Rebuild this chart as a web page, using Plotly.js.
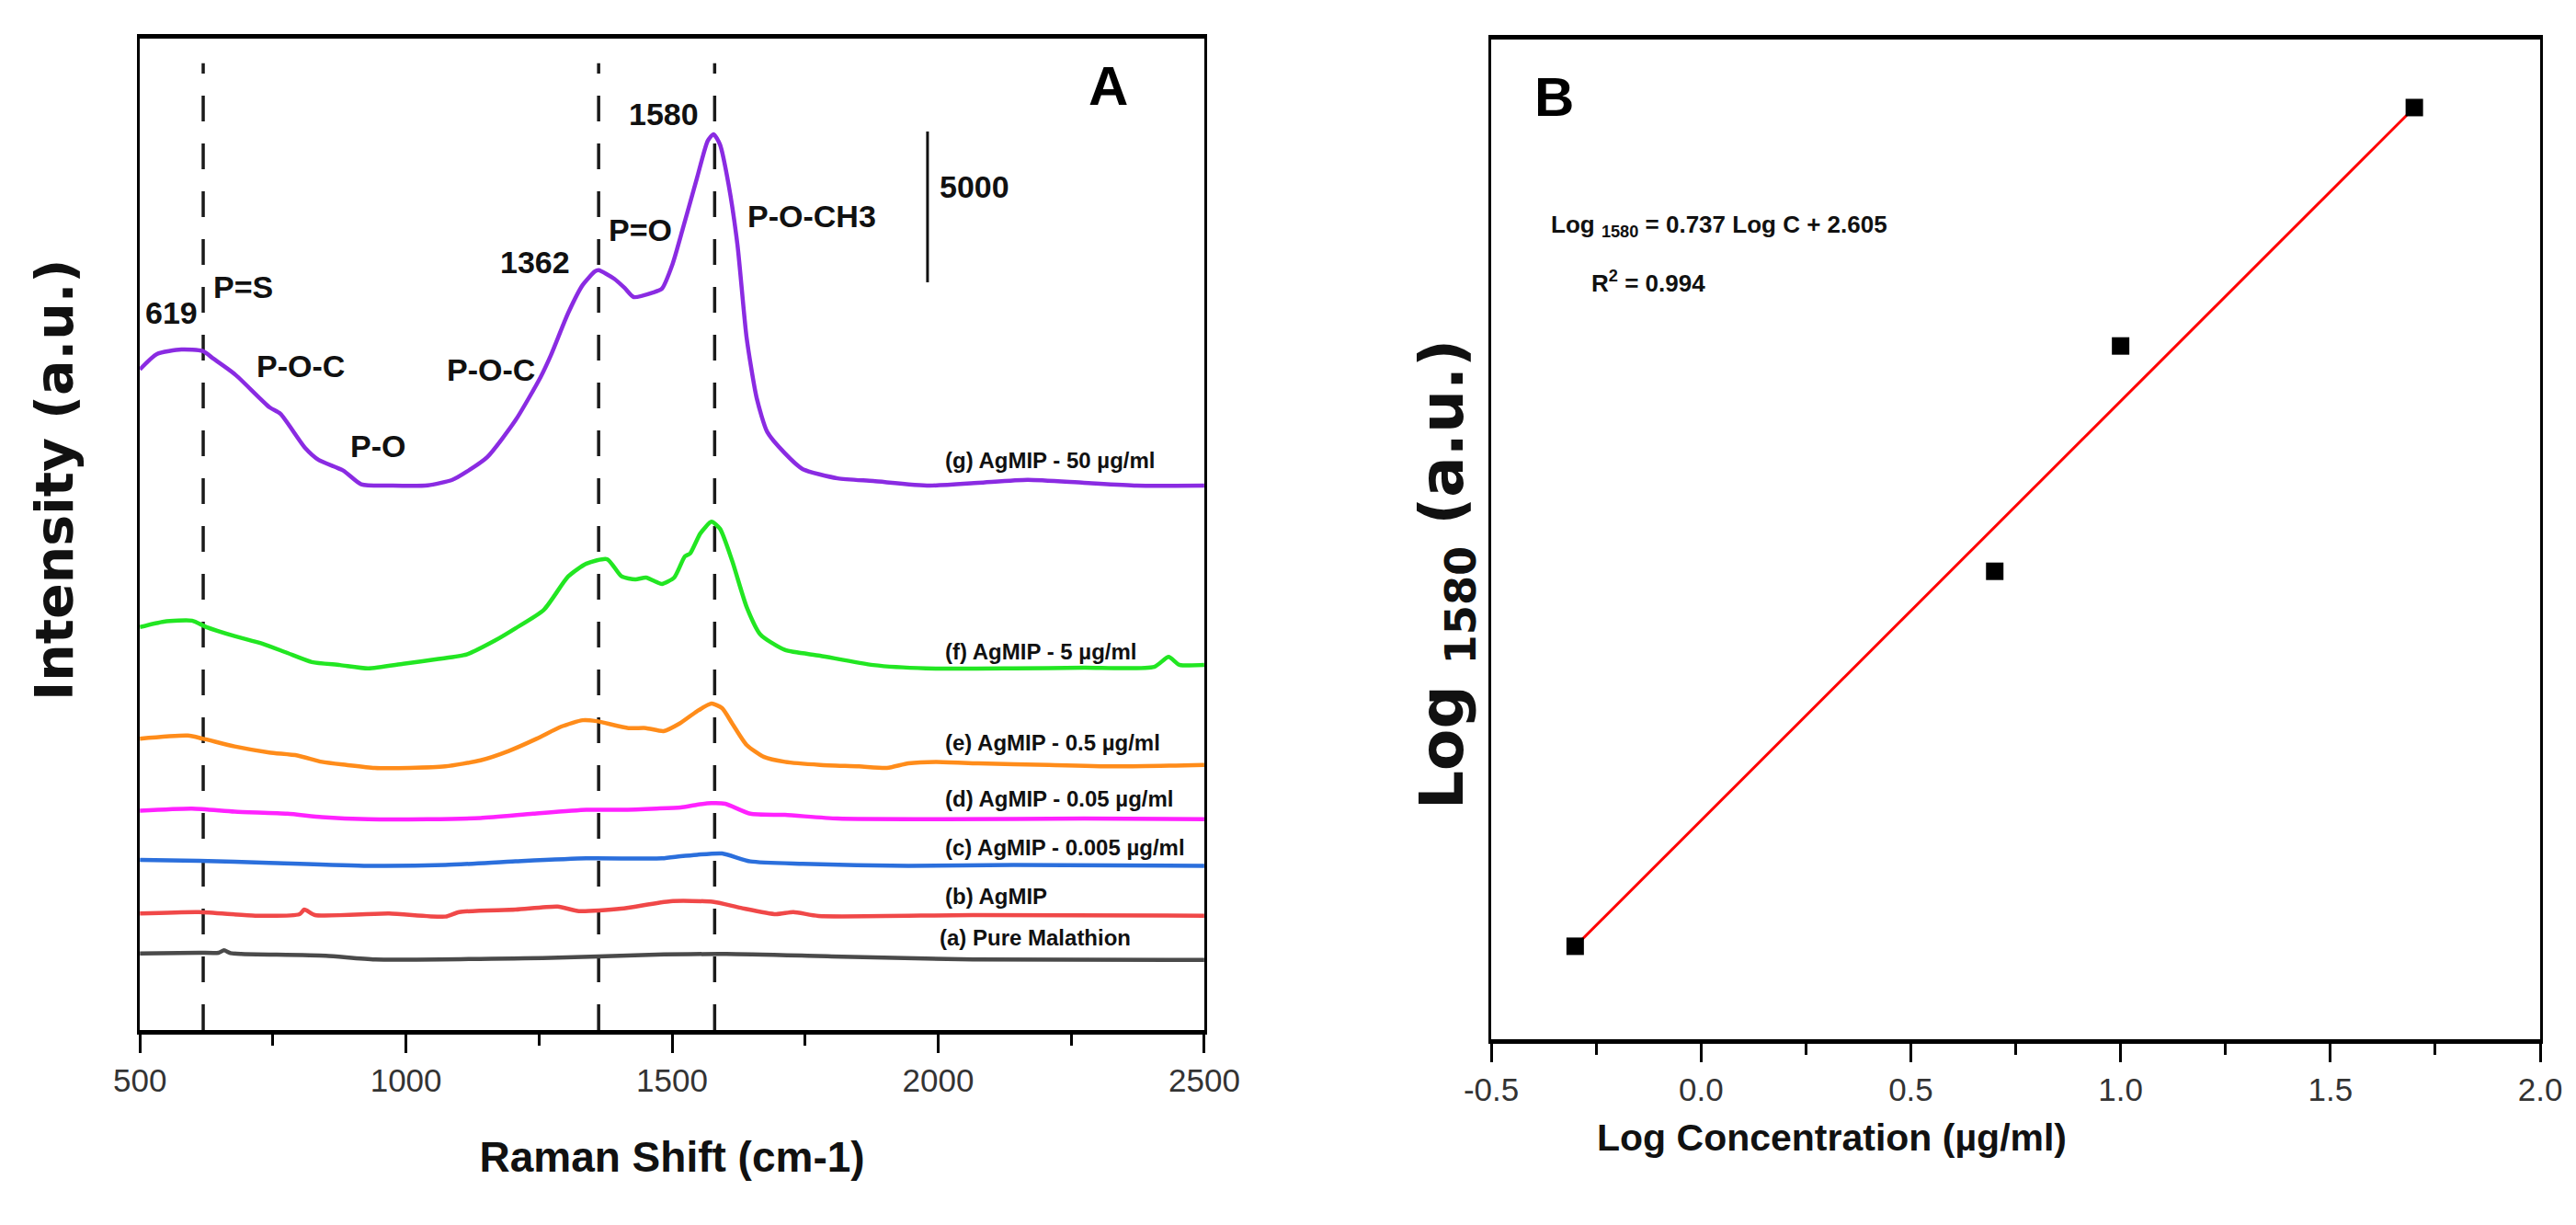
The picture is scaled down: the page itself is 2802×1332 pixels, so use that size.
<!DOCTYPE html>
<html>
<head>
<meta charset="utf-8">
<script src="https://cdn.plot.ly/plotly-3.0.1.min.js"></script>
<style>html,body{margin:0;padding:0;background:#fff;}#chart{width:2802px;height:1332px;}</style>
</head>
<body>
<div id="chart"></div>
<script>
// ---------------- Panel A: Raman spectra (stacked, counts) ----------------
const shift_g = [500,532,578,618,638,678,744,764,810,836,882,916,975,1041,1087,1114,1153,1206,1253,1272,1305,1332,1355,1362,1391,1411,1428,1464,1481,1501,1521,1547,1567,1578,1590,1606,1623,1640,1659,1679,1712,1745,1811,1878,1983,2075,2168,2274,2373,2500];
const int_g   = [21900,22410,22560,22510,22260,21750,20640,20430,19310,18900,18550,18090,18050,18060,18240,18510,19000,20220,21650,22360,23780,24700,25150,25190,24910,24600,24300,24450,24580,25400,26620,28260,29480,29700,29360,28050,26010,22960,20950,19820,19120,18600,18290,18200,18050,18140,18240,18140,18050,18050];

const shift_f = [500,545,598,625,678,730,777,823,876,929,995,1061,1114,1167,1206,1259,1305,1339,1378,1405,1431,1451,1471,1481,1504,1524,1534,1553,1574,1590,1613,1640,1666,1712,1778,1878,1977,2142,2274,2406,2433,2453,2500];
const int_f   = [13360,13540,13570,13360,13060,12810,12500,12200,12100,11990,12140,12300,12450,12910,13320,13930,15040,15460,15610,15040,14940,15000,14850,14790,15000,15700,15800,16460,16850,16620,15550,14030,13110,12600,12410,12100,11990,11990,12010,12040,12370,12110,12100];

const shift_e = [500,590,618,678,743,796,842,888,941,1007,1074,1140,1193,1246,1292,1332,1358,1418,1451,1484,1514,1547,1574,1594,1613,1640,1673,1712,1778,1851,1904,1944,1996,2075,2208,2340,2500];
const int_e   = [9660,9760,9660,9400,9200,9100,8890,8790,8690,8690,8740,8940,9250,9660,10060,10270,10240,10010,10010,9910,10160,10570,10820,10670,10160,9450,9050,8890,8790,8740,8690,8840,8890,8840,8790,8740,8790];

const shift_d = [500,598,678,777,842,929,1041,1140,1239,1339,1405,1471,1516,1547,1574,1600,1647,1712,1811,2009,2274,2500];
const int_d   = [7270,7340,7240,7170,7060,6990,6990,7030,7170,7300,7300,7340,7380,7470,7520,7500,7170,7130,7010,6990,7010,6990];

const shift_c = [500,611,743,929,1074,1206,1339,1481,1516,1547,1594,1647,1745,1944,2142,2500];
const int_c   = [5640,5610,5540,5440,5470,5590,5690,5690,5760,5810,5850,5590,5510,5440,5470,5440];

const shift_b = [500,611,717,800,809,829,968,1074,1100,1206,1285,1325,1404,1497,1576,1629,1695,1728,1775,2065,2500];
const int_b   = [3860,3910,3790,3840,3990,3810,3860,3760,3910,3990,4090,3940,4020,4270,4250,4050,3840,3910,3780,3810,3790];

const shift_a = [500,611,648,658,670,690,849,942,1272,1457,1602,1800,2065,2500];
const int_a   = [2540,2560,2560,2640,2550,2520,2460,2340,2390,2490,2520,2440,2340,2320];

const seriesLabels = ["(g) AgMIP - 50 µg/ml","(f) AgMIP - 5 µg/ml","(e) AgMIP - 0.5 µg/ml","(d) AgMIP - 0.05 µg/ml","(c) AgMIP - 0.005 µg/ml","(b) AgMIP","(a) Pure Malathion"];
const seriesColors = ["#8a2be2","#22e622","#ff8c1a","#ff22ff","#2b6fdc","#f04848","#4a4a4a"];
const labelY = [18900,12560,9540,7680,6040,4420,3050];

const peakLines = [619, 1362, 1580];
const peakTexts = [
  {t:"619", x:559, y:23780},
  {t:"P=S", x:635, y:24640, left:true},
  {t:"P-O-C", x:802, y:22010},
  {t:"P-O", x:947, y:19360},
  {t:"P-O-C", x:1160, y:21890},
  {t:"1362", x:1243, y:25460},
  {t:"P=O", x:1441, y:26530},
  {t:"1580", x:1484, y:30370},
  {t:"P-O-CH3", x:1763, y:26980}
];
const scaleBarX = 1980, scaleBarBottom = 24790, scaleBarSize = 5000;

// ---------------- Panel B: calibration ----------------
const logConc = [-0.3, 0.7, 1.0, 1.7];
const log1580 = [2.384, 3.043, 3.439, 3.858];
const fitSlope = 0.737, fitIntercept = 2.605;

const FONT = '"Liberation Sans", Arial, sans-serif';
const WIDE = '"DejaVu Sans", Verdana, sans-serif';

const allShift = [shift_g,shift_f,shift_e,shift_d,shift_c,shift_b,shift_a];
const allInt = [int_g,int_f,int_e,int_d,int_c,int_b,int_a];

const traces = [];
for (let i = 0; i < allShift.length; i++) {
  traces.push({
    type:'scatter', mode:'lines', x: allShift[i], y: allInt[i],
    line:{color: seriesColors[i], width: 4.5, shape:'spline', smoothing:0.6},
    name: seriesLabels[i], xaxis:'x', yaxis:'y', hoverinfo:'skip'
  });
}
const fitX = [logConc[0], logConc[logConc.length-1]];
traces.push({
  type:'scatter', mode:'lines', x: fitX, y: fitX.map(v => fitSlope*v + fitIntercept),
  line:{color:'#ff0000', width:3}, xaxis:'x2', yaxis:'y2', name:'fit'
});
traces.push({
  type:'scatter', mode:'markers', x: logConc, y: log1580,
  marker:{symbol:'square', size:19, color:'#000'}, xaxis:'x2', yaxis:'y2', name:'data'
});

const shapes = peakLines.map(p => ({
  type:'line', xref:'x', yref:'y', x0:p, x1:p, y0:0, y1:32050,
  line:{color:'#1a1a1a', width:3.5, dash:'28px,24px'}, layer:'below'
}));
shapes.push({type:'line', xref:'x', yref:'y', x0:scaleBarX, x1:scaleBarX, y0:scaleBarBottom, y1:scaleBarBottom+scaleBarSize, line:{color:'#111', width:3}});

const annotations = [];
peakTexts.forEach(p => annotations.push({
  xref:'x', yref:'y', x:p.x, y:p.y, text:p.t, showarrow:false,
  xanchor: p.left ? 'left' : 'center', font:{family:FONT, size:34, color:'#111', weight:'bold'}
}));
annotations.push({xref:'x', yref:'y', x:2068, y:27960, text:String(scaleBarSize), showarrow:false, font:{family:FONT, size:34, color:'#111', weight:'bold'}});
annotations.push({xref:'x', yref:'y', x:2320, y:31310, text:'A', showarrow:false, font:{family:FONT, size:60, color:'#000', weight:'bold'}});
seriesLabels.forEach((s,i) => annotations.push({
  xref:'x', yref:'y', x: i === 6 ? 1999 : 2009, y: labelY[i], text:s, showarrow:false, xanchor:'left',
  font:{family:FONT, size:24, color:'#111', weight:'bold'}
}));
annotations.push({xref:'x2', yref:'y2', x:-0.351, y:3.877, text:'B', showarrow:false, font:{family:FONT, size:60, color:'#000', weight:'bold'}});
annotations.push({xref:'x2', yref:'y2', x:-0.362, y:3.651, xanchor:'left', text:'Log <sub>1580</sub> = ' + fitSlope + ' Log C + ' + fitIntercept, showarrow:false, font:{family:FONT, size:26, color:'#111', weight:'bold'}});
annotations.push({xref:'x2', yref:'y2', x:-0.265, y:3.551, xanchor:'left', text:'R<sup>2</sup> = 0.994', showarrow:false, font:{family:FONT, size:26, color:'#111', weight:'bold'}});
// axis titles placed as in the reference
annotations.push({xref:'paper', yref:'paper', x:0.02106, y:0.6081, xanchor:'center', yanchor:'middle', textangle:-90, showarrow:false,
  text:'Intensity (a.u.)', font:{family:WIDE, size:57, color:'#111', weight:'bold'}});
annotations.push({xref:'paper', yref:'paper', x:0.5614, y:0.5308, xanchor:'center', yanchor:'middle', textangle:-90, showarrow:false,
  text:'Log <sub>1580</sub> (a.u.)', font:{family:WIDE, size:66, color:'#111', weight:'bold'}});
annotations.push({xref:'paper', yref:'paper', x:0.7112, y:1-1237/1332, xanchor:'center', yanchor:'middle', showarrow:false,
  text:'Log Concentration (µg/ml)', font:{family:FONT, size:41, color:'#111', weight:'bold'}});

const tickFont = {family:FONT, size:35, color:'#333'};
const layout = {
  width:2802, height:1332, margin:{l:0,r:0,t:0,b:0},
  paper_bgcolor:'#fff', plot_bgcolor:'#fff', showlegend:false,
  xaxis:{domain:[0.0543,0.4675], range:[500,2500], tickvals:[500,1000,1500,2000,2500],
    ticks:'outside', ticklen:20, tickwidth:3, tickcolor:'#000',
    minor:{dtick:250, tick0:500, ticks:'outside', ticklen:12, tickwidth:3, tickcolor:'#000'},
    showline:true, linewidth:5, linecolor:'#000', mirror:true, showgrid:false, zeroline:false,
    tickfont:tickFont,
    title:{text:'Raman Shift (cm-1)', font:{family:FONT, size:46, color:'#111', weight:'bold'}, standoff:50}},
  yaxis:{domain:[0.1592,0.9685], range:[0,32870], showticklabels:false, ticks:'',
    showline:true, linewidth:3, linecolor:'#000', mirror:true, showgrid:false, zeroline:false},
  xaxis2:{domain:[0.5789,0.9861], range:[-0.5,2.0], tickvals:[-0.5,0,0.5,1.0,1.5,2.0], ticktext:['-0.5','0.0','0.5','1.0','1.5','2.0'],
    ticks:'outside', ticklen:20, tickwidth:3, tickcolor:'#000',
    minor:{dtick:0.25, tick0:-0.5, ticks:'outside', ticklen:12, tickwidth:3, tickcolor:'#000'},
    showline:true, linewidth:5, linecolor:'#000', mirror:true, showgrid:false, zeroline:false,
    tickfont:tickFont, anchor:'y2'},
  yaxis2:{domain:[0.1517,0.9677], range:[2.2207,3.9775], showticklabels:false, ticks:'', anchor:'x2',
    showline:true, linewidth:3, linecolor:'#000', mirror:true, showgrid:false, zeroline:false},
  shapes:shapes, annotations:annotations
};
Plotly.newPlot('chart', traces, layout, {staticPlot:true, displayModeBar:false});
</script>
</body>
</html>
